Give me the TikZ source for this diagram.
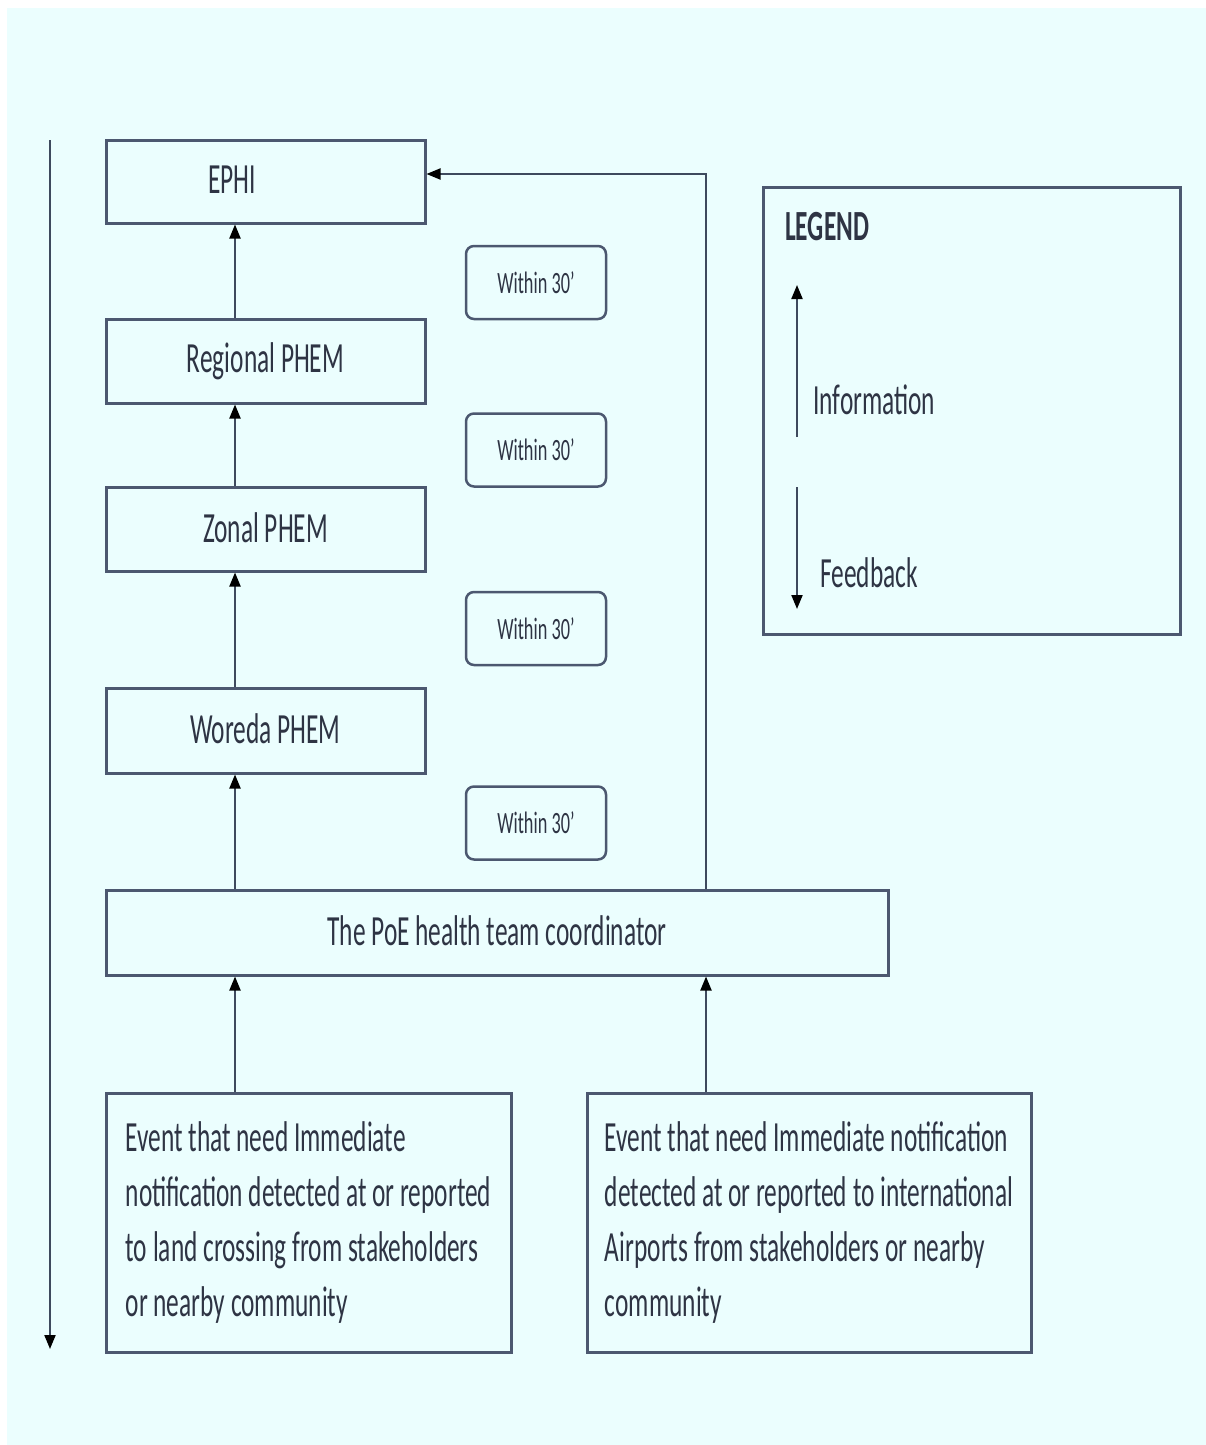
\documentclass[tikz,border=0pt]{standalone}
\usepackage{fontspec}
\setmainfont{Carlito}[FakeStretch=0.59]
\usetikzlibrary{arrows.meta,calc}
\definecolor{bgc}{HTML}{EBFEFE}
\definecolor{boxc}{HTML}{4C5870}
\definecolor{linec}{HTML}{3E4A5E}
\definecolor{txtc}{HTML}{2E3444}
\begin{document}
\begin{tikzpicture}[x=1pt,y=-1pt,
  every node/.style={text=txtc},
  mainfont/.style={font=\fontsize{43}{55}\selectfont},
  levelbox/.style={draw=boxc,line width=3pt,fill=bgc,minimum width=319pt,minimum height=83pt,inner sep=0pt,mainfont},
  timebox/.style={draw=boxc,line width=2.5pt,rounded corners=8pt,fill=bgc,minimum width=140pt,minimum height=73pt,inner sep=0pt,font=\fontsize{31}{36}\selectfont},
  eventbox/.style={draw=boxc,line width=3pt,fill=bgc,minimum height=259pt,inner sep=0pt,align=left,mainfont},
  conn/.style={draw=linec,line width=2pt,-{Triangle[length=14pt,width=11pt,color=black]}},
  lbl/.style={anchor=west,inner sep=0pt,mainfont}]
\useasboundingbox (0,0) rectangle (1206,1445);
\fill[white] (0,0) rectangle (1206,1445);
\fill[bgc] (7,8) rectangle (1206,1445);

% columns for connectors
\coordinate (colA) at (235,0);
\coordinate (colB) at (706,0);
\coordinate (elbow) at (706,174);

% level boxes
\node[levelbox] (ephi) at (265.5,181.5) {\raisebox{3pt}{EPHI}\hspace*{67pt}};
\node[levelbox,minimum height=84pt] (regional) at (265.5,361) {Regional PHEM};
\node[levelbox,minimum height=84pt] (zonal) at (265.5,529) {\raisebox{3pt}{Zonal PHEM}};
\node[levelbox,minimum height=85pt] (woreda) at (265.5,730.5) {\raisebox{3pt}{Woreda PHEM}};

% time boxes
\node[timebox] (t1) at (536,282.5) {Within 30'};
\node[timebox] (t2) at (536,450) {Within 30'};
\node[timebox] (t3) at (536,628.5) {Within 30'};
\node[timebox] (t4) at (536,823) {Within 30'};

% coordinator
\node[levelbox,minimum width=782pt,minimum height=85pt] (coord) at (497,932.5) {\raisebox{3pt}{The PoE health team coordinator}};

% event boxes
\node[eventbox,minimum width=405pt] (evL) at (308.5,1222.5)
  {Event that need Immediate\\notification detected at or reported\\to land crossing from stakeholders\\or nearby community};
\node[eventbox,minimum width=444pt] (evR) at (809,1222.5)
  {Event that need Immediate notification\\detected at or reported to international\\Airports from stakeholders or nearby\\community};

% legend
\node[draw=boxc,line width=3pt,fill=bgc,minimum width=417pt,minimum height=447pt,inner sep=0pt] (legend) at (971.5,410.5) {};
\node[lbl,font=\fontsize{43}{55}\bfseries\selectfont] (legtitle) at (785,227) {LEGEND};
\coordinate (infoA) at (797,437);
\coordinate (infoB) at (797,285);
\coordinate (fbA) at (797,487);
\coordinate (fbB) at (797,609);
\draw[conn] (infoA) -- (infoB);
\draw[conn] (fbA) -- (fbB);
\node[lbl] (infotxt) at (813,400) {Information};
\node[lbl] (fbtxt) at (820,573) {Feedback};

% left feedback line
\coordinate (fbTop) at (50,140);
\coordinate (fbBot) at (50,1349);
\draw[conn] (fbTop) -- (fbBot);

% information connectors
\draw[conn] (regional.north -| colA) -- (ephi.south -| colA);
\draw[conn] (zonal.north -| colA) -- (regional.south -| colA);
\draw[conn] (woreda.north -| colA) -- (zonal.south -| colA);
\draw[conn] (coord.north -| colA) -- (woreda.south -| colA);
\draw[conn] (evL.north -| colA) -- (coord.south -| colA);
\draw[conn] (evR.north -| colB) -- (coord.south -| colB);
\draw[conn] (coord.north -| colB) -- (elbow) -- (ephi.east |- elbow);
\end{tikzpicture}
\end{document}
